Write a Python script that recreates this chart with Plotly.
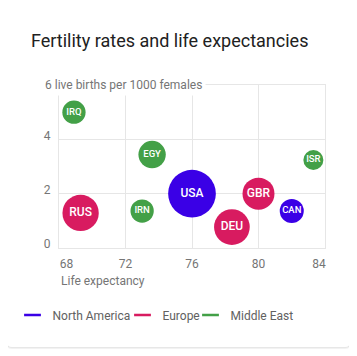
import plotly.graph_objects as go

# ---------------- data ----------------
countries = ['CAN', 'DEU', 'EGY', 'GBR', 'IRN', 'IRQ', 'ISR', 'RUS', 'USA']
life_expectancy = [82.0, 78.4, 73.6, 80.0, 73.0, 68.9, 83.3, 69.3, 76.0]
fertility_rate = [1.36, 0.77, 3.44, 2.0, 1.36, 5.0, 3.24, 1.29, 2.0]
region = ['North America', 'Europe', 'Middle East', 'Europe', 'Middle East',
          'Middle East', 'Middle East', 'Europe', 'North America']
population_m = [78, 172, 101, 138, 73, 73, 54, 178, 307]

regions = ['North America', 'Europe', 'Middle East']
region_colors = {'North America': '#3a00e6', 'Europe': '#d81b60', 'Middle East': '#43a047'}

x_ticks = [68, 72, 76, 80, 84]
y_ticks = [0, 2, 4, 6]

# ---------------- layout geometry (window pixel coords; page body has 8px margin) ----------------
OFF = 8
W, H = 357 - OFF, 356 - OFF
PX0, PX1 = 59, 325      # plot area left/right in window px
PY0, PY1 = 85, 248      # plot area top/bottom in window px
ML, MR, MT, MB = PX0 - OFF, W - (PX1 - OFF), PY0 - OFF, H - (PY1 - OFF)
PW, PH = PX1 - PX0, PY1 - PY0
FONT = 'Roboto'


def px_x(p):
    return (p - PX0) / PW


def px_y(p):
    return (PY1 - p) / PH


max_d = 47.7
sizeref = 2 * max(population_m) / max_d ** 2

fig = go.Figure()

for r in regions:
    idx = [i for i, g in enumerate(region) if g == r]
    fig.add_trace(go.Scatter(
        x=[life_expectancy[i] for i in idx],
        y=[fertility_rate[i] for i in idx],
        text=[countries[i] for i in idx],
        mode='markers+text',
        textposition='middle center',
        textfont=dict(family=FONT, color='white', weight=500,
                      size=[12 if population_m[i] > 120 else 9.5 for i in idx]),
        marker=dict(size=[population_m[i] for i in idx], sizemode='area', sizeref=sizeref,
                    color=region_colors[r], opacity=1, line=dict(width=0)),
        name=r, showlegend=False, hoverinfo='text', cliponaxis=False,
    ))

legend_ids = ['legend', 'legend2', 'legend3']
for r, lid in zip(regions, legend_ids):
    fig.add_trace(go.Scatter(
        x=[None], y=[None], mode='markers', name=r, legend=lid, showlegend=True,
        marker=dict(symbol='line-ew', size=12, color=region_colors[r],
                    line=dict(width=2.5, color=region_colors[r])),
    ))


def rrect(x0, y0, x1, y1, rad):
    pts = [
        ('M', x0 + rad, y0), ('L', x1 - rad, y0), ('Q', x1, y0, x1, y0 + rad),
        ('L', x1, y1 - rad), ('Q', x1, y1, x1 - rad, y1), ('L', x0 + rad, y1),
        ('Q', x0, y1, x0, y1 - rad), ('L', x0, y0 + rad), ('Q', x0, y0, x0 + rad, y0),
    ]
    s = ''
    for p in pts:
        coords = p[1:]
        parts = []
        for k in range(0, len(coords), 2):
            parts.append(f'{px_x(coords[k]):.5f},{px_y(coords[k + 1]):.5f}')
        s += p[0] + ' '.join(parts) + ' '
    return s + 'Z'


shapes = [
    dict(type='path', xref='paper', yref='paper', path=rrect(6, 5, 351, 349, 6),
         fillcolor='rgba(0,0,0,0.05)', line=dict(width=0), layer='below'),
    dict(type='path', xref='paper', yref='paper', path=rrect(6.5, 4.5, 350.5, 347.8, 5),
         fillcolor='rgba(0,0,0,0.06)', line=dict(width=0), layer='below'),
    dict(type='path', xref='paper', yref='paper', path=rrect(7, 5, 350, 347, 5),
         fillcolor='white', line=dict(width=0), layer='below'),
]

annotations = [
    dict(text='6 live births per 1000 females', xref='paper', yref='y',
         x=px_x(41), y=6, xanchor='left', yanchor='middle', showarrow=False,
         bgcolor='white', borderpad=3,
         font=dict(family=FONT, size=12, color='#757575')),
    dict(text='Life expectancy', xref='paper', yref='paper',
         x=px_x(59), y=px_y(281), xanchor='left', yanchor='middle', showarrow=False,
         font=dict(family=FONT, size=12, color='#757575')),
]

nb = '\u00a0'
x_ticktext = [str(v) for v in x_ticks]
x_ticktext[0] = nb * 5 + x_ticktext[0]
x_ticktext[-1] = x_ticktext[-1] + nb * 4
y_ticktext = [str(v) for v in y_ticks]
y_ticktext[-1] = ''

legend_style = dict(orientation='h', xanchor='left', yanchor='middle',
                    font=dict(family=FONT, size=12, color='#616161'),
                    bgcolor='rgba(0,0,0,0)', itemclick=False, itemdoubleclick=False)
legend_left = [12.5, 122.5, 190.5]

fig.update_layout(
    width=W, height=H,
    margin=dict(l=ML, r=MR, t=MT, b=MB, autoexpand=False),
    paper_bgcolor='white', plot_bgcolor='rgba(0,0,0,0)',
    title=dict(text='Fertility rates and life expectancies', x=(31 - OFF) / W, xanchor='left',
               xref='container', yref='container', y=1 - (41 - OFF) / H, yanchor='middle',
               font=dict(family=FONT, size=18, color='#212121')),
    xaxis=dict(range=[68, 84], tickvals=x_ticks, ticktext=x_ticktext, showgrid=True,
               gridcolor='#e6e6e6', gridwidth=1, zeroline=False, showline=True, mirror=True,
               linecolor='#e6e6e6', linewidth=1, ticks='', ticklabelstandoff=5,
               tickfont=dict(family=FONT, size=12, color='#757575'), automargin=False,
               fixedrange=True),
    yaxis=dict(range=[0, 6], tickvals=y_ticks, ticktext=y_ticktext, showgrid=True,
               gridcolor='#e6e6e6', gridwidth=1, zeroline=False, showline=True, mirror=True,
               linecolor='#e6e6e6', linewidth=1, ticks='', ticklabelstandoff=5,
               ticklabelshift=-4,
               tickfont=dict(family=FONT, size=12, color='#757575'), automargin=False,
               fixedrange=True),
    showlegend=True,
    legend=dict(x=px_x(legend_left[0]), y=px_y(315), **legend_style),
    legend2=dict(x=px_x(legend_left[1]), y=px_y(315), **legend_style),
    legend3=dict(x=px_x(legend_left[2]), y=px_y(315), **legend_style),
    shapes=shapes, annotations=annotations,
)

fig.write_html('out.html')
